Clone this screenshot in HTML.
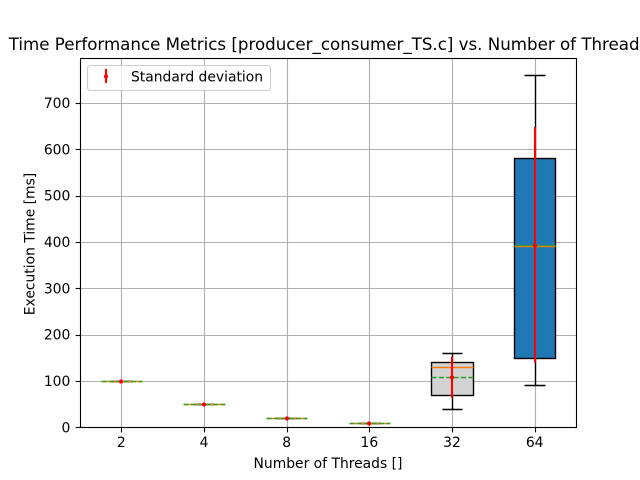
<!DOCTYPE html>
<html>
<head>
<meta charset="utf-8">
<style>
html,body{margin:0;padding:0;background:#fff;}
svg{display:block;}
text{font-family:"DejaVu Sans","Liberation Sans",sans-serif;fill:#000;}
</style>
</head>
<body>
<svg id="chart" width="640" height="480" viewBox="0 0 640 480" xmlns="http://www.w3.org/2000/svg">
<rect x="0" y="0" width="640" height="480" fill="#fff"/>
<g id="grid"></g>
<g id="marks"></g>
<g id="errs"></g>
<g id="axes"></g>
<text x="328.5" y="50" font-size="16.67" text-anchor="middle">Time Performance Metrics [producer_consumer_TS.c] vs. Number of Threads</text>
<text x="328" y="468" font-size="13.89" text-anchor="middle">Number of Threads []</text>
<text transform="translate(34.5 244) rotate(-90)" font-size="13.89" text-anchor="middle">Execution Time [ms]</text>
<g>
<rect x="87.5" y="65.5" width="183" height="25" rx="3" fill="#fff" fill-opacity="0.8" stroke="#cccccc" stroke-width="1.1"/>
<line x1="106" x2="106" y1="69" y2="83" stroke="#ff0000" stroke-width="2.08"/>
<circle cx="106" cy="76.5" r="2.1" fill="#ff0000"/>
<text x="131" y="81.5" font-size="13.89">Standard deviation</text>
</g>
</svg>
<script>
const categories = ["2", "4", "8", "16", "32", "64"];
const yTickValues = [0, 100, 200, 300, 400, 500, 600, 700];
const q1Values = [100, 50, 20, 10, 70, 150];
const q3Values = [100, 50, 20, 10, 140, 582];
const medianValues = [100, 50, 20, 10, 130, 391];
const meanValues = [100, 50, 20, 10, 108, 394];
const whiskerLow = [100, 50, 20, 10, 40, 91];
const whiskerHigh = [100, 50, 20, 10, 160, 760];
const stdValues = [1, 1, 1, 1, 44, 254];
const boxColors = ["#d3d3d3", "#d3d3d3", "#d3d3d3", "#d3d3d3", "#d3d3d3", "#1f77b4"];

const LEFT = 80, RIGHT = 576, TOP = 57.6, BOTTOM = 427.2;
const X_MIN = 0.5, X_MAX = 6.5, Y_MIN = 0, Y_MAX = 798;
const BOX_W = 0.5, CAP_W = 0.25;
const SVGNS = "http://www.w3.org/2000/svg";

function xScale(v) { return LEFT + (v - X_MIN) / (X_MAX - X_MIN) * (RIGHT - LEFT); }
function yScale(v) { return BOTTOM - (v - Y_MIN) / (Y_MAX - Y_MIN) * (BOTTOM - TOP); }
function snap(v) { return Math.floor(v + 0.5) + 0.5; }
function snapEven(v) { return Math.floor(v + 0.5); }

function make(parent, tag, attrs) {
  const el = document.createElementNS(SVGNS, tag);
  for (const k in attrs) el.setAttribute(k, attrs[k]);
  parent.appendChild(el);
  return el;
}

const grid = document.getElementById("grid");
const marks = document.getElementById("marks");
const errs = document.getElementById("errs");
const axes = document.getElementById("axes");
const T = snap(TOP), B = snap(BOTTOM), L = snap(LEFT), R = snap(RIGHT);
const EDGE = "#000000";
const LW = 1.39;
let el;

categories.forEach(function (cat, i) {
  const px = snap(xScale(i + 1));
  el = make(grid, "line", { x1: px, x2: px, y1: T, y2: B, stroke: "#b0b0b0", "stroke-width": 1.11 });
  
  
  el = make(axes, "line", { x1: px, x2: px, y1: B, y2: B + 4.86, stroke: "#000", "stroke-width": 1.11 });
  
  
  el = make(axes, "text", { x: xScale(i + 1), y: 447, "font-size": 13.89, "text-anchor": "middle" });
  el.textContent = cat;
  
  
});

yTickValues.forEach(function (t) {
  const py = snap(yScale(t));
  el = make(grid, "line", { x1: L, x2: R, y1: py, y2: py, stroke: "#b0b0b0", "stroke-width": 1.11 });
  
  
  el = make(axes, "line", { x1: L - 4.86, x2: L, y1: py, y2: py, stroke: "#000", "stroke-width": 1.11 });
  
  
  el = make(axes, "text", { x: 70.3, y: yScale(t) + 5.1, "font-size": 13.89, "text-anchor": "end" });
  el.textContent = String(t);
  
  
});

categories.forEach(function (cat, i) {
  const pos = i + 1;
  const cx = snap(xScale(pos));
  const bl = snap(xScale(pos - BOX_W / 2)), br = snap(xScale(pos + BOX_W / 2));
  const cl = snap(xScale(pos - CAP_W / 2)), cr = snap(xScale(pos + CAP_W / 2));
  const yQ1 = snap(yScale(q1Values[i])), yQ3 = snap(yScale(q3Values[i]));
  const yLo = snap(yScale(whiskerLow[i])), yHi = snap(yScale(whiskerHigh[i]));
  const yMed = snap(yScale(medianValues[i])), yMean = snap(yScale(meanValues[i]));

  el = make(marks, "rect", { x: bl, y: yQ3, width: br - bl, height: yQ1 - yQ3, fill: boxColors[i], stroke: EDGE, "stroke-width": LW });
  
  

  el = make(marks, "line", { x1: cx, x2: cx, y1: yQ3, y2: yHi, stroke: EDGE, "stroke-width": LW });
  
  
  el = make(marks, "line", { x1: cx, x2: cx, y1: yQ1, y2: yLo, stroke: EDGE, "stroke-width": LW });
  
  
  el = make(marks, "line", { x1: cl, x2: cr, y1: yHi, y2: yHi, stroke: EDGE, "stroke-width": LW });
  
  
  el = make(marks, "line", { x1: cl, x2: cr, y1: yLo, y2: yLo, stroke: EDGE, "stroke-width": LW });
  
  

  el = make(marks, "line", { x1: bl, x2: br, y1: yMed, y2: yMed, stroke: "#ff7f0e", "stroke-width": LW });
  
  

  el = make(marks, "line", { x1: bl, x2: br, y1: yMean, y2: yMean, stroke: "#2ca02c", "stroke-width": LW, "stroke-dasharray": "5.14 2.22" });
  
  

  const ex = snapEven(xScale(pos));
  el = make(errs, "line", { x1: ex, x2: ex, y1: yScale(meanValues[i] - stdValues[i]), y2: yScale(meanValues[i] + stdValues[i]), stroke: "#ff0000", "stroke-width": 2.08 });
  
  
  el = make(errs, "circle", { cx: ex, cy: yMean, r: 2.1, fill: "#ff0000" });
  
  
});

el = make(axes, "rect", { x: L, y: T, width: R - L, height: B - T, fill: "none", stroke: "#000", "stroke-width": 1.11 });


</script>
</body>
</html>
